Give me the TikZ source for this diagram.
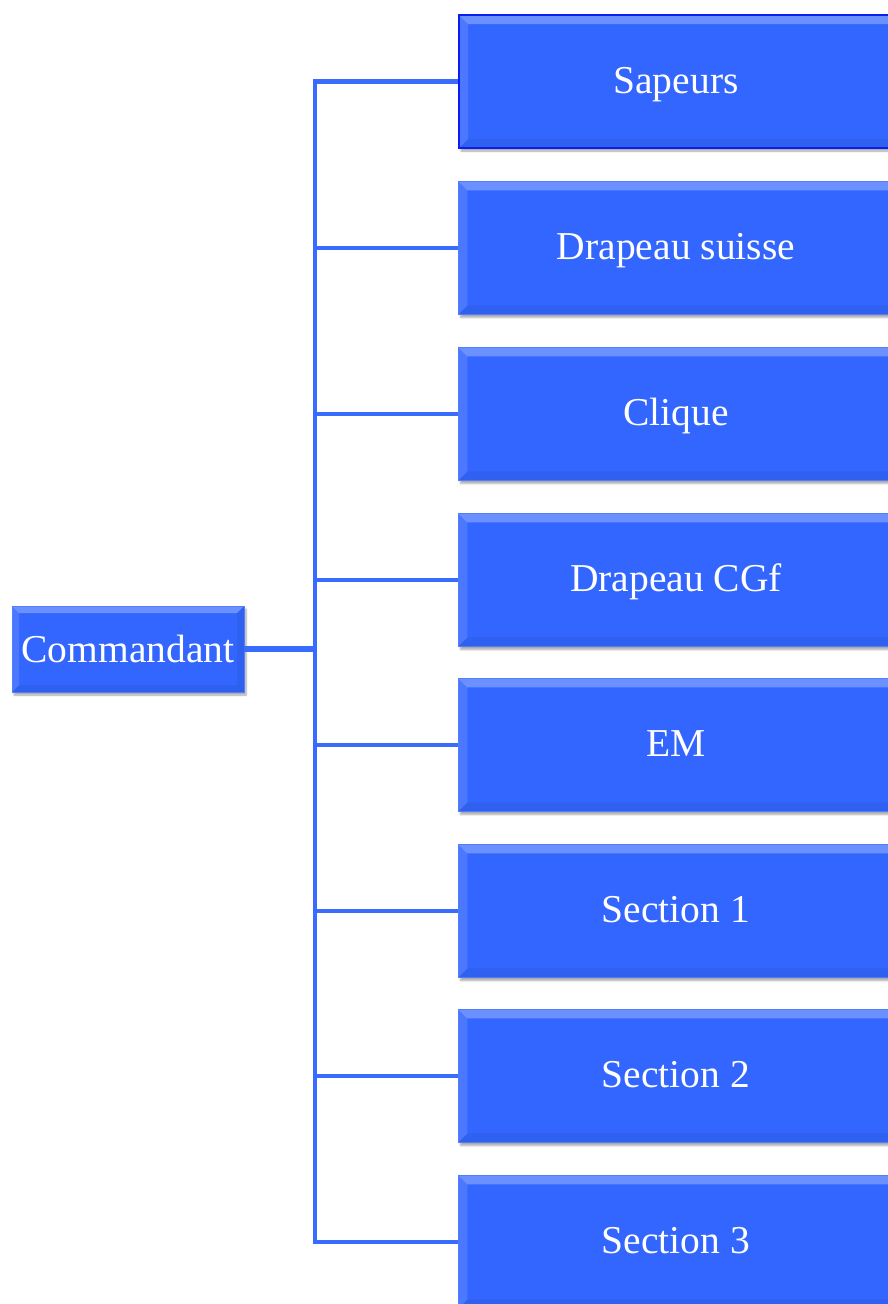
\documentclass[tikz,border=0pt]{standalone}
\usepackage{fontspec}
\setmainfont{Liberation Serif}
\usetikzlibrary{shadows.blur}
\definecolor{boxblue}{HTML}{3366FF}
\definecolor{lineblue}{HTML}{3A6BFF}
\definecolor{selblue}{HTML}{0A1EF0}
\tikzset{
  bevel/.style={path picture={
    \fill[white,opacity=0.28] (path picture bounding box.north west) -- (path picture bounding box.north east)
      -- ([xshift=-#1,yshift=-#1]path picture bounding box.north east) -- ([xshift=#1,yshift=-#1]path picture bounding box.north west) -- cycle;
    \fill[white,opacity=0.12] (path picture bounding box.north west) -- ([xshift=#1,yshift=-#1]path picture bounding box.north west)
      -- ([xshift=#1,yshift=#1]path picture bounding box.south west) -- (path picture bounding box.south west) -- cycle;
    \fill[black,opacity=0.06] (path picture bounding box.south west) -- (path picture bounding box.south east)
      -- ([xshift=-#1,yshift=#1]path picture bounding box.south east) -- ([xshift=#1,yshift=#1]path picture bounding box.south west) -- cycle;
    \fill[black,opacity=0.06] (path picture bounding box.north east) -- ([xshift=-#1,yshift=-#1]path picture bounding box.north east)
      -- ([xshift=-#1,yshift=#1]path picture bounding box.south east) -- (path picture bounding box.south east) -- cycle;
  }},
  boxbase/.style={rectangle, fill=boxblue, text=white, inner sep=0pt,
    blur shadow={shadow xshift=2pt, shadow yshift=-3pt, shadow blur steps=6, shadow opacity=35}},
  unitbox/.style={boxbase, bevel=9pt, draw=boxblue!85!white, line width=0.8pt,
    minimum width=442pt, minimum height=133pt, anchor=north west},
  selbox/.style={draw=selblue, line width=2pt},
  cmdbox/.style={boxbase, bevel=7pt, draw=boxblue!85!white, line width=0.8pt,
    minimum width=232pt, minimum height=86pt},
  lbl/.style={text=white, font=\fontsize{39.5}{42}\selectfont, inner sep=0pt, anchor=base},
  conn/.style={draw=lineblue, line width=4.5pt, line join=miter},
  mainconn/.style={draw=lineblue, line width=6pt}
}
\begin{document}
\begin{tikzpicture}[x=1pt,y=-1pt]
\useasboundingbox (0,0) rectangle (888,1304);
\clip (0,0) rectangle (888,1304);
\coordinate (sp) at (315,0);
\node[unitbox, selbox] (sap) at (458,14) {};
\node[unitbox] (dsu) at (458,181) {};
\node[unitbox] (cli) at (458,347) {};
\node[unitbox] (dcg) at (458,513) {};
\node[unitbox] (em)  at (458,678) {};
\node[unitbox] (s1)  at (458,844) {};
\node[unitbox] (s2)  at (458,1009) {};
\node[unitbox] (s3)  at (458,1175) {};
\node[cmdbox] (cmd) at (128,649) {};
\draw[conn] (sap.west) -- (sap.west -| sp) -- (s3.west -| sp) -- (s3.west);
\foreach \n in {dsu,cli,dcg,em,s1,s2}{
  \draw[conn] (\n.west -| sp) -- (\n.west);
}
\draw[mainconn] (cmd.east) -- (cmd.east -| sp);
% texts
\node[lbl] (tsap) at (676,93) {Sapeurs};
\node[lbl] (tdsu) at (676,259) {Drapeau suisse};
\node[lbl] (tcli) at (676,425) {Clique};
\node[lbl] (tdcg) at (676,591) {Drapeau CGf};
\node[lbl] (tem)  at (676,756) {EM};
\node[lbl] (ts1)  at (676,922) {Section 1};
\node[lbl] (ts2)  at (676,1087) {Section 2};
\node[lbl] (ts3)  at (676,1253) {Section 3};
\node[lbl] (tcmd) at (128,662) {Commandant};
\end{tikzpicture}
\end{document}
